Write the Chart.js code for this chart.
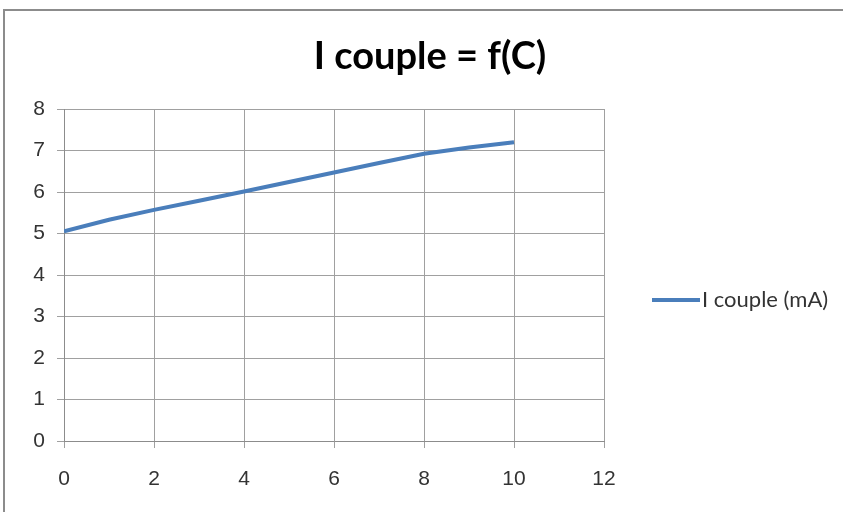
<!DOCTYPE html>
<html>
<head>
<meta charset="utf-8">
<script src="https://cdn.jsdelivr.net/npm/chart.js@4/dist/chart.umd.min.js"></script>
<style>
  html, body { margin: 0; padding: 0; background: #fff; }
  #wrap { width: 843px; height: 512px; position: relative; }
</style>
</head>
<body>
<div id="wrap"><canvas id="c" width="843" height="512"></canvas></div>
<script>
// Current through the couple (mA) against C
const cValues = [0, 1, 2, 3, 4, 5, 6, 7, 8, 9, 10];
const iCouple = [5.05, 5.33, 5.57, 5.79, 6.01, 6.24, 6.47, 6.70, 6.92, 7.07, 7.20];
const xTicks = [0, 2, 4, 6, 8, 10, 12];
const yTicks = [0, 1, 2, 3, 4, 5, 6, 7, 8];
const seriesName = 'I couple (mA)';
const chartTitle = 'I couple = f(C)';

const TEXT_FONT = 'Lato, "Open Sans", sans-serif';
const TICK_FONT = '"Liberation Sans Narrow", "Arial Narrow", sans-serif';
const LINE_COLOR = '#4a7ebb';

const points = cValues.map((x, i) => ({ x: x, y: iCouple[i] }));

// Outer frame around the whole chart object, plus the heading
const framePlugin = {
  id: 'frame',
  beforeDraw(chart) {
    const ctx = chart.ctx;
    ctx.save();
    ctx.fillStyle = '#ffffff';
    ctx.fillRect(0, 0, chart.width, chart.height);
    ctx.strokeStyle = '#8c8c8c';
    ctx.lineWidth = 2;
    ctx.strokeRect(4, 10, chart.width + 20, chart.height + 20);
    ctx.fillStyle = '#000000';
    ctx.font = 'bold 38px ' + TEXT_FONT;
    ctx.textAlign = 'center';
    ctx.textBaseline = 'alphabetic';
    ctx.fillText(chartTitle, 430, 69);
    ctx.restore();
  }
};

// Legend entry on the right, drawn from the dataset itself
const sideLegend = {
  id: 'sideLegend',
  afterDraw(chart) {
    const ds = chart.data.datasets[0];
    const ctx = chart.ctx;
    const y = 300;
    const x0 = 652;
    ctx.save();
    ctx.strokeStyle = ds.borderColor;
    ctx.lineWidth = ds.borderWidth;
    ctx.beginPath();
    ctx.moveTo(x0, y);
    ctx.lineTo(x0 + 48, y);
    ctx.stroke();
    ctx.fillStyle = '#333333';
    ctx.font = '22px ' + TEXT_FONT;
    ctx.textBaseline = 'middle';
    ctx.textAlign = 'left';
    ctx.fillText(ds.label, x0 + 50, y);
    ctx.restore();
  }
};

new Chart(document.getElementById('c'), {
  type: 'scatter',
  data: {
    datasets: [{
      label: seriesName,
      data: points,
      showLine: true,
      borderColor: LINE_COLOR,
      backgroundColor: LINE_COLOR,
      borderWidth: 4,
      pointRadius: 0,
      pointHoverRadius: 0,
      tension: 0
    }]
  },
  options: {
    responsive: false,
    animation: false,
    devicePixelRatio: 1,
    layout: { padding: { left: 0, right: 239, top: 109, bottom: 0 } },
    plugins: {
      legend: { display: false },
      tooltip: { enabled: false },
      title: { display: false }
    },
    scales: {
      x: {
        type: 'linear',
        min: 0,
        max: 12,
        afterBuildTicks(scale) { scale.ticks = xTicks.map(v => ({ value: v })); },
        afterFit(scale) { scale.height = 71; },
        ticks: {
          color: '#333333',
          font: { family: TICK_FONT, size: 21 },
          padding: 19,
          maxRotation: 0
        },
        grid: {
          color: '#a0a0a0',
          lineWidth: 1,
          tickLength: 7,
          drawTicks: true
        },
        border: { color: '#8c8c8c', width: 1 }
      },
      y: {
        type: 'linear',
        min: 0,
        max: 8,
        afterBuildTicks(scale) { scale.ticks = yTicks.map(v => ({ value: v })); },
        afterFit(scale) { scale.width = 64; },
        ticks: {
          color: '#333333',
          font: { family: TICK_FONT, size: 21 },
          padding: 12
        },
        grid: {
          color: '#a0a0a0',
          lineWidth: 1,
          tickLength: 7,
          drawTicks: true
        },
        border: { color: '#8c8c8c', width: 1 }
      }
    }
  },
  plugins: [framePlugin, sideLegend]
});
</script>
</body>
</html>
